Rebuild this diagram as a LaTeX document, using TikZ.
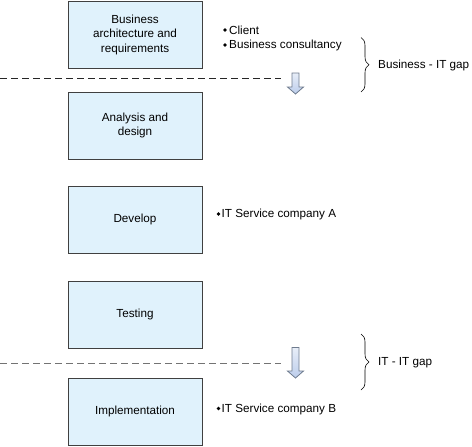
\documentclass[tikz,border=0pt]{standalone}
\usepackage{fontspec}
\setmainfont{Liberation Sans}
\usetikzlibrary{decorations.pathreplacing}
\definecolor{boxfill}{HTML}{E0F2FC}
\definecolor{boxline}{HTML}{404040}
\definecolor{arrfill}{HTML}{BCCDEB}
\definecolor{arrline}{HTML}{6E7B8E}
\begin{document}
\begin{tikzpicture}[x=1pt,y=-1pt,
  stagebox/.style={draw=boxline, fill=boxfill, line width=0.9pt, minimum width=134pt, minimum height=67pt, inner sep=0pt, align=center, font=\fontsize{11.7}{14.5}\selectfont},
  itemtext/.style={anchor=west, inner sep=0pt, font=\fontsize{11.7}{14}\selectfont},
  gaptext/.style={anchor=west, inner sep=0pt, font=\fontsize{11.7}{14}\selectfont},
  gapline/.style={dash pattern=on 7pt off 4pt, line width=0.8pt},
  dotmark/.style={fill=black, draw=none},
  gaparrow/.style={draw=arrline, line width=0.8pt, top color=arrfill!35, bottom color=arrfill},
  bracestyle/.style={decorate, decoration={brace, amplitude=8pt}, line width=0.6pt}]
\useasboundingbox (0,0) rectangle (472,447);

\node[stagebox] (b1) at (135,34.5) {Business\\architecture and\\requirements};
\node[stagebox] (b2) at (135,125.5) {Analysis and\\design};
\node[stagebox] (b3) at (135,219.5) {Develop};
\node[stagebox] (b4) at (135,314.5) {Testing};
\node[stagebox] (b5) at (135,411.5) {Implementation};

% bullets
\fill[dotmark] (225,30) circle (1.8pt);
\node[itemtext] (t1) at (229,30.5) {Client};
\fill[dotmark] (225,45) circle (1.8pt);
\node[itemtext] (t2) at (229,45.5) {Business consultancy};
\fill[dotmark] (218.5,214) circle (1.8pt);
\node[itemtext] (t3) at (221.5,214.5) {IT Service company A};
\fill[dotmark] (218.5,408.5) circle (1.8pt);
\node[itemtext] (t4) at (221.5,409) {IT Service company B};

% dashed gap lines
\coordinate (l1a) at (0,78.5);
\coordinate (l1b) at (281,78.5);
\draw[gapline, black!85] (l1a) -- (l1b);
\coordinate (l2a) at (0,363);
\coordinate (l2b) at (281,363);
\draw[gapline, black!55] (l2a) -- (l2b);

% arrows
\path[gaparrow] (292,73) -- (299,73) -- (299,87) -- (303.5,87) -- (295.5,94) -- (287.5,87) -- (292,87) -- cycle;
\path[gaparrow] (292,347.5) -- (299,347.5) -- (299,371) -- (303.5,371) -- (295.5,378) -- (287.5,371) -- (292,371) -- cycle;

% braces
\coordinate (br1a) at (361,37.5);
\coordinate (br1b) at (361,92);
\draw[bracestyle] (br1a) -- (br1b);
\node[gaptext] (g1) at (378,65) {Business - IT gap};
\coordinate (br2a) at (361,334);
\coordinate (br2b) at (361,390);
\draw[bracestyle] (br2a) -- (br2b);
\node[gaptext] (g2) at (378,363) {IT - IT gap};
\end{tikzpicture}
\end{document}
